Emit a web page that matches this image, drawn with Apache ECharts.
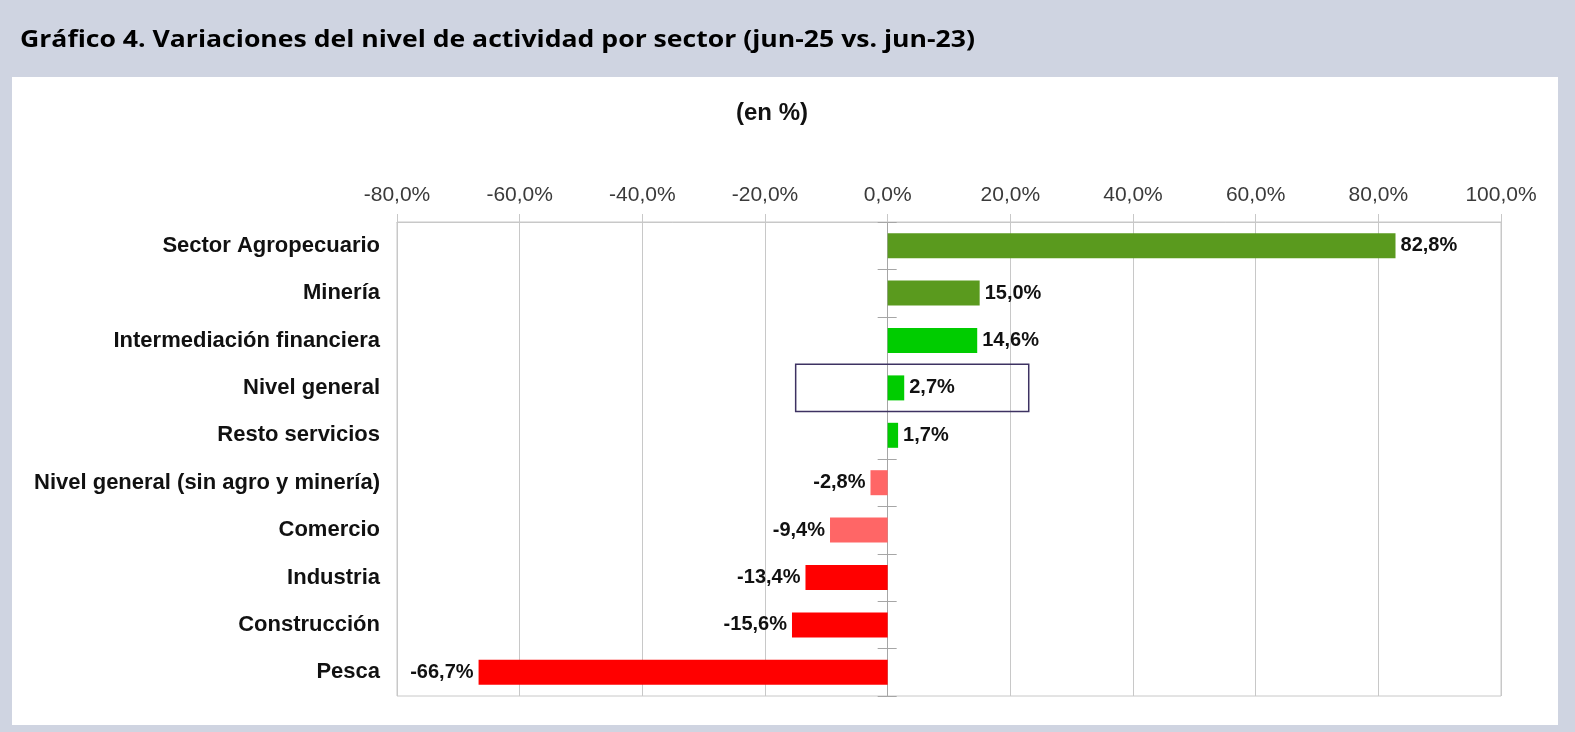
<!DOCTYPE html>
<html><head><meta charset="utf-8">
<script src="https://cdn.jsdelivr.net/npm/echarts@6/dist/echarts.min.js"></script>
<style>
html,body{margin:0;padding:0;background:#cfd4e1;overflow:hidden;}
#panel{position:absolute;left:12px;top:77px;width:1546px;height:648px;background:#fff;}
#c{position:absolute;left:0;top:0;width:1575px;height:732px;}
</style>
</head><body><div id="panel"></div><div id="c"></div>
<script>
const categories = ['Sector Agropecuario','Minería','Intermediación financiera','Nivel general','Resto servicios','Nivel general (sin agro y minería)','Comercio','Industria','Construcción','Pesca'];
const values = [82.8, 15.0, 14.6, 2.7, 1.7, -2.8, -9.4, -13.4, -15.6, -66.7];
const xTicks = [-80, -60, -40, -20, 0, 20, 40, 60, 80, 100];
const highlighted = 'Nivel general';
const titleText = 'Gráfico 4. Variaciones del nivel de actividad por sector (jun-25 vs. jun-23)';
const subtitleText = '(en %)';

// styles
const barColors = ['#5a9a1e','#5a9a1e','#00cc00','#00cc00','#00cc00','#ff6666','#ff6666','#ff0000','#ff0000','#ff0000'];
const fmt = v => Number(v).toFixed(1).replace('.', ',') + '%';
const FONT = '"Liberation Sans", Arial, sans-serif';
const gridColor = '#c8c8c8';
const axisColor = '#a6a6a6';

// title font fitted to the reference width
const titleFont = 'bold 23px "Open Sans", sans-serif';
const mctx = document.createElement('canvas').getContext('2d');
mctx.font = titleFont;
const titleScale = 955 / mctx.measureText(titleText).width;

const chart = echarts.init(document.getElementById('c'), null, {renderer: 'canvas'});
chart.setOption({
  backgroundColor: 'transparent',
  animation: false,
  grid: {left: 397, right: 74, top: 222, bottom: 36, show: true, borderColor: gridColor, borderWidth: 1, containLabel: false},
  xAxis: {
    type: 'value', position: 'top',
    min: xTicks[0], max: xTicks[xTicks.length - 1], interval: xTicks[1] - xTicks[0],
    axisLine: {show: true, onZero: false, lineStyle: {color: gridColor}},
    axisTick: {show: true, length: 8, lineStyle: {color: gridColor}},
    axisLabel: {formatter: fmt, fontSize: 21, color: '#3a3a3a', margin: 16, fontFamily: FONT},
    splitLine: {show: true, lineStyle: {color: gridColor}}
  },
  yAxis: [
    {type: 'category', data: categories, inverse: true,
     axisLine: {show: false}, axisTick: {show: false}, splitLine: {show: false},
     axisLabel: {fontSize: 22, fontWeight: 'bold', color: '#111', margin: 17, fontFamily: FONT}},
    {type: 'category', data: categories, inverse: true, position: 'left',
     axisLine: {show: true, onZero: true, onZeroAxisIndex: 0, lineStyle: {color: axisColor}},
     axisTick: {show: true, length: 10, lineStyle: {color: axisColor}},
     axisLabel: {show: false}, splitLine: {show: false}},
    {type: 'category', data: categories, inverse: true, position: 'left',
     axisLine: {show: true, onZero: true, onZeroAxisIndex: 0, lineStyle: {color: axisColor}},
     axisTick: {show: true, inside: true, length: 9, lineStyle: {color: axisColor}},
     axisLabel: {show: false}, splitLine: {show: false}}
  ],
  series: [{
    type: 'bar', yAxisIndex: 0, barWidth: 25,
    data: values.map((v, i) => ({value: v, itemStyle: {color: barColors[i]}, label: {position: v >= 0 ? 'right' : 'left'}})),
    label: {show: true, formatter: p => fmt(p.value), fontSize: 20, fontWeight: 'bold', color: '#111', distance: 5, fontFamily: FONT},
    z: 3
  }],
  graphic: {elements: [
    {id: 'title', type: 'text', x: 20, y: 40, scaleX: titleScale, originX: 0, originY: 0,
     style: {text: titleText, font: titleFont, fill: '#000', textVerticalAlign: 'middle'}},
    {id: 'sub', type: 'text', x: 772, y: 113, style: {text: subtitleText, font: 'bold 24px ' + FONT, fill: '#111', textAlign: 'center', textVerticalAlign: 'middle'}}
  ]}
});

// highlight box around the "Nivel general" category band
const boxRange = [-15, 23];
const idx = categories.indexOf(highlighted);
const pA = chart.convertToPixel({seriesIndex: 0}, [boxRange[0], idx]);
const pB = chart.convertToPixel({seriesIndex: 0}, [boxRange[1], idx]);
const pN = chart.convertToPixel({seriesIndex: 0}, [boxRange[0], idx + 1]);
const half = Math.abs(pN[1] - pA[1]) / 2;
chart.setOption({graphic: {elements: [
  {id: 'box', type: 'rect', z: 10, shape: {x: pA[0], y: pA[1] - half, width: pB[0] - pA[0], height: half * 2},
   style: {fill: 'none', stroke: '#3d3262', lineWidth: 1.5}}
]}});
</script>
</body></html>
